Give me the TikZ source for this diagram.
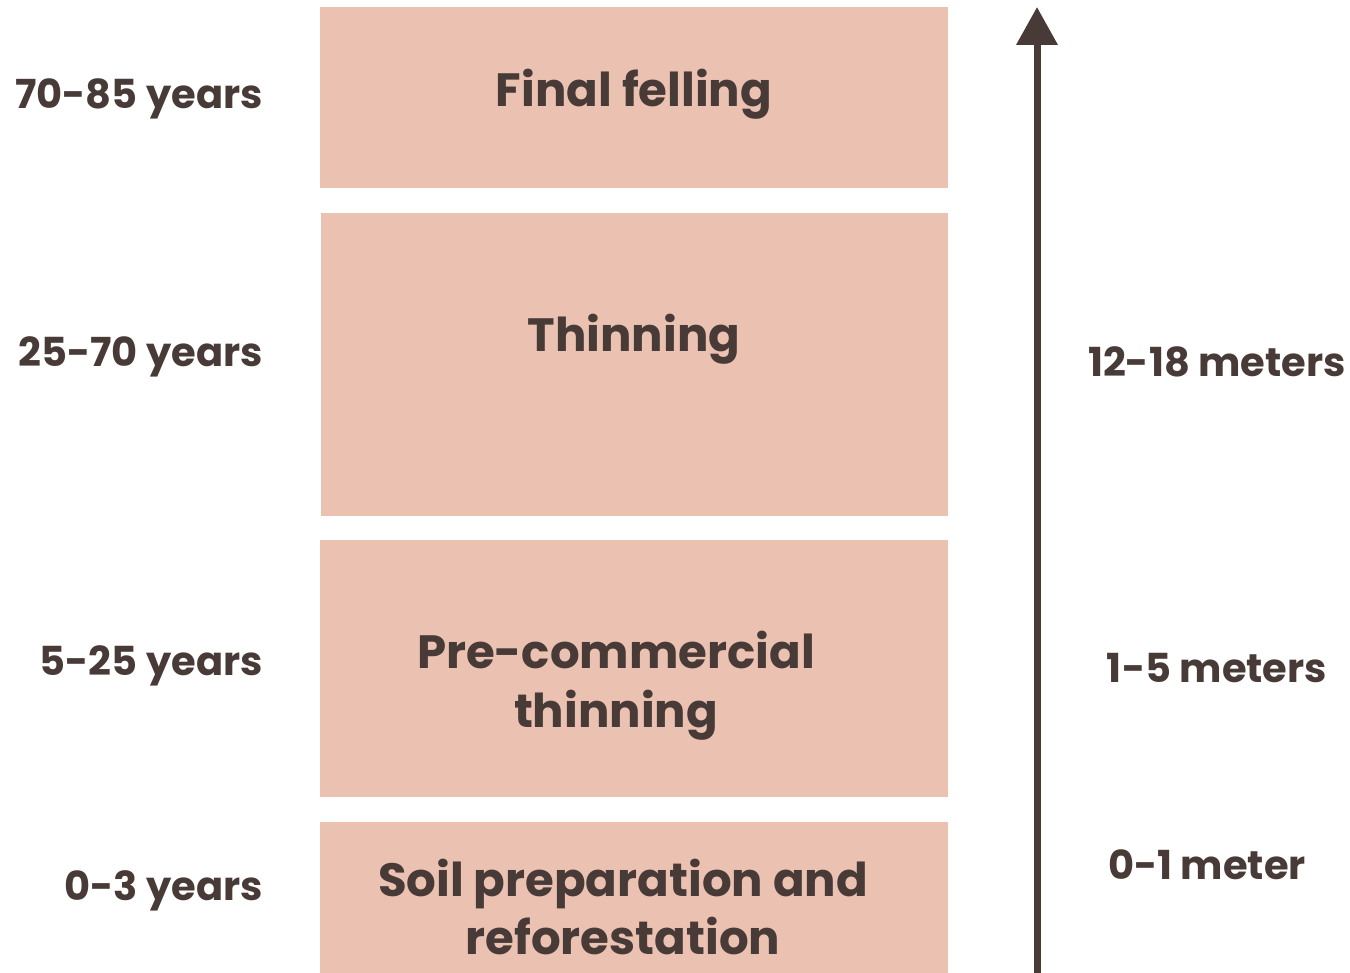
\documentclass[tikz,border=0pt]{standalone}
\usepackage{fontspec}
\setmainfont{Poppins}
\usetikzlibrary{arrows.meta}

\definecolor{stagefill}{HTML}{EBC1B1}
\definecolor{inkbrown}{HTML}{473A37}

\tikzset{
	stage/.style={fill=stagefill, inner sep=0pt, anchor=north west},
	stagetext/.style={text=inkbrown, font=\fontsize{35}{44}\selectfont\bfseries, align=center},
	agetext/.style={text=inkbrown, font=\fontsize{30}{36}\selectfont\bfseries, anchor=east, inner sep=0pt},
	heighttext/.style={text=inkbrown, font=\fontsize{30}{36}\selectfont\bfseries, inner sep=0pt},
}

\begin{document}
\begin{tikzpicture}[x=0.75pt, y=-0.75pt]
		\useasboundingbox (0,0) rectangle (1350,973);

		% stages
		\node[stage, minimum width=628*0.75pt, minimum height=181*0.75pt] (felling) at (320,7) {};
		\node[stage, minimum width=627*0.75pt, minimum height=303*0.75pt] (thin) at (321,213) {};
		\node[stage, minimum width=628*0.75pt, minimum height=257*0.75pt] (precom) at (320,540) {};
		\node[stage, minimum width=628*0.75pt, minimum height=151*0.75pt] (soil) at (320,822) {};

		\node[stagetext] (fellingtext) at (634,94) {Final felling};
		\node[stagetext] (thintext) at (634,339) {Thinning};
		\node[stagetext] (precomtext) at (616,686) {Pre-commercial\\thinning};
		\node[stagetext] (soiltext) at (623,907) {Soil preparation and\\reforestation};

		% ages
		\node[agetext] (age4) at (263,99) {70-85 years};
		\node[agetext] (age3) at (263,357) {25-70 years};
		\node[agetext] (age2) at (263,666) {5-25 years};
		\node[agetext] (age1) at (263,891) {0-3 years};

		% heights
		\coordinate (base) at (1037,973);
		\coordinate (top) at (1037,7);
		\path [-{Triangle[width=40*0.75pt, length=38*0.75pt]}, color=inkbrown, line width=7*0.75pt] (base) edge (top);

		\node[heighttext] (h3) at (1217,362) {12-18 meters};
		\node[heighttext] (h2) at (1217,668) {1-5 meters};
		\node[heighttext] (h1) at (1207,865) {0-1 meter};
	\end{tikzpicture}
\end{document}
